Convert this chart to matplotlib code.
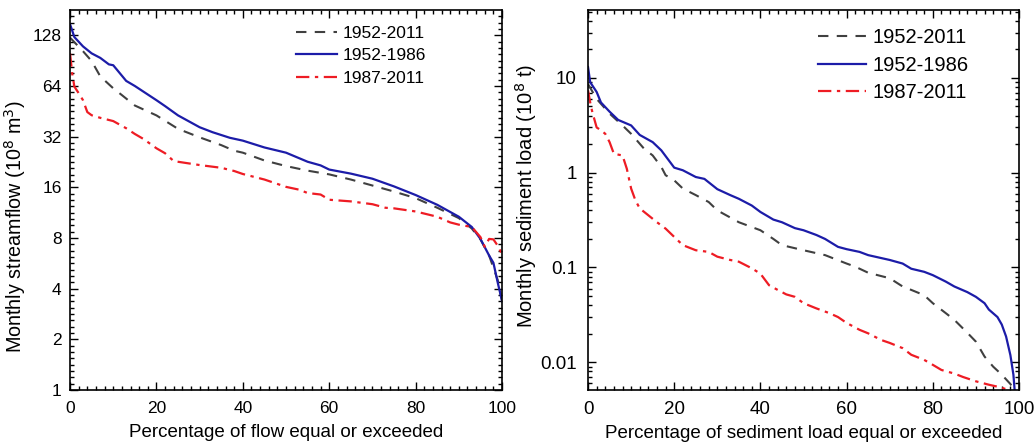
import numpy as np
import matplotlib
matplotlib.use("Agg")
import matplotlib.pyplot as plt
from matplotlib.ticker import FixedLocator, NullFormatter, LogLocator, MultipleLocator

plt.rcParams['font.family'] = ['Liberation Sans', 'DejaVu Sans']

# ---------------- Left panel: streamflow duration curves ----------------
flow_x_all = [0, 3, 5, 7, 10, 12, 15, 20, 25, 30, 35, 38, 40, 45, 50, 55, 60, 65, 70, 75, 80, 85, 90, 93, 95, 97, 99, 100]
flow_all = [124, 103, 90, 73, 62, 56.5, 49, 42.8, 35.6, 31.7, 28.5, 26.4, 25.7, 23.1, 21.4, 20.1, 19.1, 17.8, 16.4, 15.1, 13.8, 12.1, 10.5, 9.1, 7.85, 6.3, 4.5, 3.4]

flow_x_early = [0, 1, 3, 5, 7, 9, 10, 13, 15, 20, 22, 25, 30, 33, 37, 40, 45, 50, 55, 58, 60, 65, 70, 75, 80, 85, 90, 93, 95, 97, 98, 99, 100]
flow_early = [149, 125, 110, 100, 94, 86, 85, 68.6, 64, 52.7, 48.6, 42.8, 36.4, 34, 31.5, 30.3, 27.6, 25.7, 22.7, 21.6, 20.4, 19.3, 18, 16.2, 14.4, 12.6, 10.7, 9.3, 7.9, 6.3, 5.7, 4.35, 3.37]

flow_x_late = [0, 0.5, 1, 2, 3, 4, 5, 7, 10, 13, 15, 17, 20, 22, 24, 30, 35, 38, 40, 45, 50, 53, 55, 58, 60, 65, 70, 73, 75, 80, 85, 88, 90, 93, 95, 96, 97, 98, 99, 100]
flow_late = [100, 76, 63.5, 58, 52.7, 44.8, 42.9, 41.4, 39.6, 35.9, 33.2, 31, 27.3, 25.5, 22.9, 21.7, 20.9, 20, 19.2, 17.8, 16.1, 15.5, 14.8, 14.5, 13.5, 13.2, 12.7, 12.1, 12, 11.5, 10.7, 9.9, 9.6, 9.3, 8.1, 7.1, 7.9, 7.85, 7.2, 6.4]

# ---------------- Right panel: sediment load duration curves ----------------
sed_x_all = [0, 2, 5, 8, 10, 13, 15, 17, 18, 20, 22, 25, 28, 30, 35, 40, 43, 45, 50, 55, 60, 62, 65, 70, 73, 75, 78, 80, 83, 85, 88, 90, 92, 94, 96, 98, 99]
sed_all = [8.6, 6, 4.2, 3.15, 2.57, 1.79, 1.52, 1.15, 0.94, 0.83, 0.68, 0.58, 0.49, 0.40, 0.30, 0.247, 0.2, 0.172, 0.152, 0.135, 0.11, 0.102, 0.088, 0.077, 0.063, 0.058, 0.051, 0.042, 0.033, 0.028, 0.0205, 0.0165, 0.0115, 0.009, 0.0074, 0.0059, 0.005]

sed_x_early = [0, 0.5, 2, 3, 5, 7, 10, 12, 15, 17, 20, 22, 25, 27, 30, 33, 35, 38, 40, 43, 45, 48, 50, 53, 55, 58, 60, 63, 65, 70, 73, 75, 78, 80, 83, 85, 88, 90, 92, 93, 95, 96, 97, 98, 98.7, 99]
sed_early = [13, 9, 7.1, 5.5, 4.4, 3.6, 3.15, 2.5, 2.1, 1.72, 1.13, 1.06, 0.9, 0.86, 0.67, 0.58, 0.53, 0.45, 0.385, 0.32, 0.30, 0.26, 0.247, 0.22, 0.2, 0.165, 0.156, 0.146, 0.135, 0.12, 0.11, 0.097, 0.09, 0.083, 0.071, 0.063, 0.055, 0.049, 0.042, 0.036, 0.03, 0.025, 0.0187, 0.0119, 0.0074, 0.005]

sed_x_late = [0, 0.5, 1, 2, 3, 4, 5, 6, 7, 8, 9, 10, 11, 12, 14, 16, 18, 20, 22, 25, 28, 30, 33, 35, 38, 40, 42, 44, 46, 48, 50, 53, 56, 58, 60, 63, 65, 68, 70, 73, 75, 78, 80, 82, 85, 87, 90, 93, 96, 98]
sed_late = [7.4, 5.5, 4.35, 3.0, 2.8, 2.57, 2.1, 1.58, 1.55, 1.52, 1.1, 0.68, 0.51, 0.42, 0.355, 0.30, 0.257, 0.21, 0.172, 0.152, 0.146, 0.13, 0.12, 0.115, 0.098, 0.086, 0.065, 0.058, 0.052, 0.049, 0.042, 0.037, 0.033, 0.030, 0.026, 0.022, 0.0202, 0.0172, 0.016, 0.0141, 0.012, 0.0106, 0.0094, 0.0083, 0.0076, 0.007, 0.0063, 0.0058, 0.0054, 0.005]

labels = ['1952-2011', '1952-1986', '1987-2011']
c_all, c_early, c_late = '#404040', '#1c1ca8', '#ee1c24'

fig = plt.figure(figsize=(10.36, 4.44), dpi=100)
ax1 = fig.add_axes([0.0676, 0.1216, 0.4170, 0.8559])
ax2 = fig.add_axes([0.5676, 0.1216, 0.4160, 0.8559])

def style(ax):
    ax.tick_params(which='both', direction='in', top=True, right=True, width=1.0)
    ax.tick_params(which='major', length=6)
    ax.tick_params(which='minor', length=3)
    ax.tick_params(axis='x', which='major', pad=8)
    for s in ax.spines.values():
        s.set_linewidth(1.2)
    ax.set_xlim(0, 100)
    ax.xaxis.set_major_locator(MultipleLocator(20))
    ax.xaxis.set_minor_locator(MultipleLocator(2))

dash = (0, (5, 4))
dashdot = (0, (6, 2.5, 1.5, 2.5))

# Left
ax1.plot(flow_x_all, flow_all, ls=dash, color=c_all, lw=1.5, label=labels[0])
ax1.plot(flow_x_early, flow_early, ls='-', color=c_early, lw=1.6, label=labels[1])
ax1.plot(flow_x_late, flow_late, ls=dashdot, color=c_late, lw=1.6, label=labels[2])
ax1.set_yscale('log', base=2)
ax1.set_ylim(1, 181)
major1 = [1, 2, 4, 8, 16, 32, 64, 128]
ax1.yaxis.set_major_locator(FixedLocator(major1))
ax1.set_yticklabels([str(v) for v in major1])
minor1 = [2 ** (n + k / 8) for n in range(0, 8) for k in range(1, 8)]
ax1.yaxis.set_minor_locator(FixedLocator(minor1))
ax1.yaxis.set_minor_formatter(NullFormatter())
style(ax1)
ax1.tick_params(labelsize=12.5)
ax1.tick_params(axis='y', which='major', pad=6)
ax1.set_xlabel('Percentage of flow equal or exceeded', fontsize=13.5, labelpad=6)
ax1.set_ylabel('Monthly streamflow (10$^{8}$ m$^{3}$)', fontsize=14.2)
ax1.yaxis.set_label_coords(-0.098, 0.43)
ax1.legend(loc='upper right', bbox_to_anchor=(0.86, 1.0), frameon=False, fontsize=12.5,
           handlelength=2.4, handletextpad=0.3, labelspacing=0.42, borderaxespad=0.5)

# Right
ax2.plot(sed_x_all, sed_all, ls=dash, color=c_all, lw=1.5, label=labels[0])
ax2.plot(sed_x_early, sed_early, ls='-', color=c_early, lw=1.6, label=labels[1])
ax2.plot(sed_x_late, sed_late, ls=dashdot, color=c_late, lw=1.6, label=labels[2])
ax2.set_yscale('log')
ax2.set_ylim(0.0051, 52)
major2 = [0.01, 0.1, 1, 10]
ax2.yaxis.set_major_locator(FixedLocator(major2))
ax2.set_yticklabels(['0.01', '0.1', '1', '10'])
ax2.yaxis.set_minor_locator(LogLocator(base=10, subs=np.arange(2, 10), numticks=20))
ax2.yaxis.set_minor_formatter(NullFormatter())
style(ax2)
ax2.tick_params(labelsize=13.5)
ax2.tick_params(axis='y', which='major', pad=8)
ax2.set_xlabel('Percentage of sediment load equal or exceeded', fontsize=13.5, labelpad=5)
ax2.set_ylabel('Monthly sediment load (10$^{8}$ t)', fontsize=14.5)
ax2.yaxis.set_label_coords(-0.113, 0.51)
ax2.legend(loc='upper right', bbox_to_anchor=(0.925, 1.0), frameon=False, fontsize=14.5,
           handlelength=2.4, handletextpad=0.3, labelspacing=0.42, borderaxespad=0.5)

fig.savefig('out.png', dpi=100)
